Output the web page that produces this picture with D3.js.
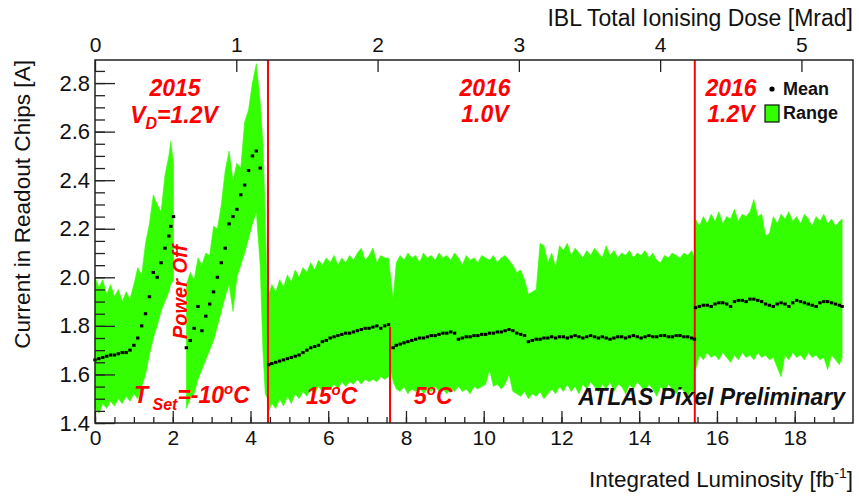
<!DOCTYPE html>
<html><head><meta charset="utf-8">
<script src="https://cdn.jsdelivr.net/npm/d3@7"></script>
<style>
html,body{margin:0;padding:0;background:#fff;}
svg{display:block;font-family:"Liberation Sans",Arial,Helvetica,sans-serif;}
</style></head>
<body>
<svg id="chart" width="859" height="497"></svg>
<script>
// ---------- DATA ----------
// Segment A: 2015, before power off
const lumiA = [0.0,0.1,0.2,0.3,0.4,0.5,0.6,0.7,0.8,0.9,1.0,1.1,1.2,1.3,1.4,1.5,1.6,1.7,1.8,1.9,1.95,2.02];
const highA = [2.00,1.96,1.99,1.93,1.97,1.92,1.95,1.90,1.94,1.91,1.97,2.04,2.01,2.14,2.22,2.34,2.30,2.27,2.42,2.50,2.56,2.47];
const lowA  = [1.46,1.44,1.48,1.46,1.49,1.47,1.50,1.48,1.51,1.49,1.52,1.50,1.55,1.60,1.68,1.75,1.80,1.86,1.90,1.94,1.97,1.99];
const meanA = [1.66,1.665,1.67,1.675,1.68,1.68,1.685,1.69,1.69,1.70,1.72,1.75,1.80,1.85,1.92,2.02,2.00,2.06,2.12,2.17,2.21,2.25];

// Segment B: 2015, after power off
const lumiB = [2.35,2.45,2.55,2.65,2.75,2.85,2.95,3.05,3.15,3.25,3.35,3.45,3.55,3.65,3.75,3.85,3.95,4.05,4.15,4.25,4.32,4.38,4.44];
const highB = [1.97,2.02,1.99,2.08,2.05,2.10,2.09,2.21,2.20,2.30,2.44,2.52,2.40,2.47,2.45,2.64,2.69,2.80,2.88,2.72,2.55,2.25,1.85];
const lowB  = [1.46,1.50,1.52,1.58,1.62,1.66,1.70,1.74,1.80,1.86,1.92,1.97,1.86,2.00,2.05,2.10,2.16,2.22,2.27,2.05,1.70,1.52,1.50];
const meanB = [1.71,1.74,1.79,1.88,1.78,1.84,1.89,1.94,2.00,2.06,2.12,2.22,2.25,2.28,2.34,2.38,2.44,2.50,2.52,2.45,null,null,null];

// Segment C: 2016, 1.0 V
const lumiC = [4.47,4.55,4.65,4.75,4.85,4.95,5.05,5.15,5.25,5.35,5.45,5.55,5.65,5.75,5.85,5.95,6.05,6.15,6.25,6.35,6.45,6.55,6.65,6.75,6.85,6.95,7.05,7.15,7.25,7.35,7.45,7.55,7.62,7.67,
 7.75,7.85,7.95,8.05,8.15,8.25,8.35,8.45,8.55,8.65,8.75,8.85,8.95,9.05,9.15,9.25,9.35,9.45,9.55,9.65,9.75,9.85,9.95,10.05,10.15,10.25,10.35,10.45,10.55,10.65,10.75,10.85,10.95,
 11.05,11.15,11.25,11.35,11.45,11.55,11.65,11.75,11.85,11.95,12.05,12.15,12.25,12.35,12.45,12.55,12.65,12.75,12.85,12.95,13.05,13.15,13.25,13.35,13.45,13.55,13.65,13.75,13.85,13.95,
 14.05,14.15,14.25,14.35,14.45,14.55,14.65,14.75,14.85,14.95,15.05,15.15,15.25,15.35,15.42];
const highC = [1.93,1.97,1.94,1.99,1.96,2.01,1.98,2.03,2.00,2.04,2.02,2.06,2.03,2.07,2.05,2.08,2.06,2.09,2.05,2.08,2.06,2.09,2.07,2.10,2.12,2.07,2.09,2.12,2.06,2.09,2.08,2.08,1.98,1.91,
 2.06,2.09,2.07,2.10,2.08,2.09,2.06,2.10,2.08,2.09,2.07,2.10,2.08,2.09,2.07,2.10,2.08,2.05,2.09,2.07,2.08,2.06,2.09,2.08,2.07,2.09,2.06,2.08,2.09,2.07,2.05,2.02,2.03,
 1.99,1.93,1.94,1.95,2.14,2.13,2.06,2.10,2.04,2.13,2.11,2.14,2.09,2.12,2.10,2.08,2.11,2.09,2.12,2.10,2.08,2.13,2.09,2.11,2.08,2.10,2.09,2.11,2.08,2.10,
 2.09,2.11,2.08,2.10,2.07,2.06,2.09,2.08,2.10,2.09,2.08,2.10,2.09,2.11,2.08];
const lowC  = [1.45,1.48,1.46,1.50,1.47,1.51,1.48,1.52,1.50,1.53,1.51,1.54,1.52,1.55,1.53,1.55,1.54,1.56,1.54,1.57,1.55,1.57,1.56,1.58,1.56,1.58,1.57,1.58,1.57,1.59,1.58,1.59,1.61,1.57,
 1.54,1.53,1.55,1.52,1.54,1.53,1.55,1.52,1.54,1.53,1.55,1.53,1.54,1.52,1.54,1.53,1.55,1.53,1.54,1.52,1.55,1.54,1.55,1.56,1.62,1.55,1.56,1.54,1.56,1.60,1.53,1.52,1.51,
 1.53,1.50,1.52,1.51,1.53,1.50,1.52,1.54,1.52,1.55,1.53,1.56,1.53,1.55,1.52,1.56,1.54,1.57,1.55,1.53,1.56,1.54,1.57,1.53,1.56,1.55,1.52,1.56,1.54,1.57,
 1.55,1.53,1.56,1.54,1.51,1.55,1.53,1.56,1.54,1.52,1.55,1.53,1.51,1.54,1.50];
const meanC = [1.64,1.645,1.65,1.655,1.66,1.665,1.67,1.675,1.68,1.69,1.70,1.71,1.715,1.72,1.735,1.74,1.75,1.755,1.76,1.765,1.77,1.77,1.775,1.78,1.785,1.79,1.79,1.795,1.80,1.79,1.80,1.805,null,1.71,
 1.72,1.725,1.73,1.735,1.74,1.745,1.75,1.75,1.755,1.76,1.76,1.765,1.77,1.77,1.775,1.77,1.745,1.75,1.755,1.755,1.76,1.76,1.765,1.765,1.77,1.77,1.775,1.775,1.78,1.785,1.78,1.77,1.765,
 1.76,1.735,1.74,1.745,1.745,1.75,1.75,1.755,1.75,1.755,1.755,1.75,1.755,1.76,1.755,1.75,1.755,1.76,1.755,1.75,1.755,1.75,1.745,1.75,1.755,1.755,1.75,1.755,1.76,1.755,
 1.75,1.755,1.76,1.755,1.755,1.76,1.76,1.755,1.755,1.76,1.76,1.755,1.755,1.75,1.745];

// Segment D: 2016, 1.2 V
const lumiD = [15.45,15.55,15.65,15.75,15.85,15.95,16.05,16.15,16.25,16.35,16.45,16.55,16.65,16.75,16.85,16.95,17.05,17.15,17.25,17.35,17.45,17.55,17.65,17.75,17.85,17.95,18.05,18.15,18.25,18.35,18.45,18.55,18.65,18.75,18.85,18.95,19.05,19.15,19.22];
const highD = [2.24,2.21,2.25,2.22,2.26,2.23,2.27,2.22,2.25,2.24,2.28,2.23,2.26,2.25,2.27,2.32,2.25,2.26,2.17,2.18,2.25,2.22,2.26,2.24,2.27,2.23,2.25,2.22,2.26,2.24,2.21,2.25,2.23,2.26,2.22,2.24,2.21,2.23,2.24];
const lowD  = [1.62,1.68,1.66,1.69,1.67,1.68,1.66,1.69,1.67,1.65,1.68,1.66,1.69,1.67,1.68,1.66,1.69,1.67,1.68,1.66,1.67,1.63,1.59,1.68,1.66,1.69,1.67,1.68,1.66,1.69,1.67,1.68,1.66,1.67,1.62,1.68,1.66,1.64,1.67];
const meanD = [1.875,1.88,1.885,1.885,1.88,1.89,1.895,1.895,1.89,1.88,1.90,1.905,1.905,1.90,1.91,1.91,1.905,1.90,1.89,1.885,1.88,1.89,1.895,1.89,1.88,1.895,1.905,1.90,1.895,1.89,1.885,1.88,1.895,1.90,1.90,1.895,1.89,1.885,1.88];

// Axis ticks
const xMajorTicks = [0,2,4,6,8,10,12,14,16,18];
const yMajorTicks = [1.4,1.6,1.8,2.0,2.2,2.4,2.6,2.8];
const doseTicks = [0,1,2,3,4,5];
// Vertical markers (luminosity)
const fullMarkers = [4.45, 15.43];
const shortMarker = {lumi: 7.59, top: 1.795};

// ---------- CHART ----------
const svg = d3.select("#chart");
const L = 95, R = 853, T = 60, B = 423;
const x = d3.scaleLinear().domain([0, 19.5]).range([L, R]);
const xTop = d3.scaleLinear().domain([0, 5.365]).range([L, R]);
const y = d3.scaleLinear().domain([1.4, 2.895]).range([B, T]);
const GREEN = "#33ff00", RED = "#ff0000";

const segments = [
  {lumi: lumiA, low: lowA, high: highA, mean: meanA},
  {lumi: lumiB, low: lowB, high: highB, mean: meanB},
  {lumi: lumiC, low: lowC, high: highC, mean: meanC},
  {lumi: lumiD, low: lowD, high: highD, mean: meanD}
];

// range band
const area = d3.area().x(d => x(d.l)).y0(d => y(d.lo)).y1(d => y(d.hi));
const gBand = svg.append("g");
segments.forEach(s => {
  const pts = s.lumi.map((l, i) => ({l, lo: s.low[i], hi: s.high[i]}));
  gBand.append("path").datum(pts).attr("d", area)
    .attr("fill", GREEN).attr("stroke", GREEN).attr("stroke-width", 0.6);
});

// red markers
const gMark = svg.append("g");
fullMarkers.forEach(m => {
  gMark.append("line").attr("x1", x(m)).attr("x2", x(m)).attr("y1", y(1.4)).attr("y2", y(2.895))
    .attr("stroke", RED).attr("stroke-width", 2);
});
gMark.append("line").attr("x1", x(shortMarker.lumi)).attr("x2", x(shortMarker.lumi))
  .attr("y1", y(1.4)).attr("y2", y(shortMarker.top)).attr("stroke", RED).attr("stroke-width", 2);

// mean dots
const gDots = svg.append("g");
segments.forEach(s => {
  const pts = s.lumi.map((l, i) => ({l, m: s.mean[i]})).filter(d => d.m != null);
  gDots.append("g").selectAll("rect").data(pts).join("rect")
    .attr("x", d => x(d.l) - 1.7).attr("y", d => y(d.m) - 1.5)
    .attr("width", 3.4).attr("height", 3).attr("fill", "#000");
});

// ---------- AXES ----------
const axisColor = "#222";
function styleAxis(g, fs) {
  g.selectAll(".domain").remove();
  g.selectAll("line").attr("stroke", axisColor).attr("stroke-width", 1.3);
  g.selectAll("text").attr("font-size", fs).attr("fill", "#111")
    .style("font-family", '"Liberation Sans",Arial,Helvetica,sans-serif');
}
// bottom
const gxMinor = svg.append("g").attr("transform", `translate(0,${B})`)
  .call(d3.axisBottom(x).tickValues(d3.range(0, 19.5, 0.5)).tickSize(-6).tickFormat(""));
styleAxis(gxMinor, 21);
const gx = svg.append("g").attr("transform", `translate(0,${B})`)
  .call(d3.axisBottom(x).tickValues(xMajorTicks).tickSize(-12).tickPadding(7).tickFormat(d3.format("d")));
styleAxis(gx, 21);
// left
const gyMinor = svg.append("g").attr("transform", `translate(${L},0)`)
  .call(d3.axisLeft(y).tickValues(d3.range(1.4, 2.89, 0.05)).tickSize(-10).tickFormat(""));
styleAxis(gyMinor, 21);
const gy = svg.append("g").attr("transform", `translate(${L},0)`)
  .call(d3.axisLeft(y).tickValues(yMajorTicks).tickSize(-20).tickPadding(5).tickFormat(d3.format(".1f")));
styleAxis(gy, 22);
// top
const gt = svg.append("g").attr("transform", `translate(0,${T})`)
  .call(d3.axisTop(xTop).tickValues(doseTicks).tickSize(-12).tickPadding(8).tickFormat(d3.format("d")));
styleAxis(gt, 21);

// frame
svg.append("rect").attr("x", L).attr("y", T).attr("width", R - L).attr("height", B - T)
  .attr("fill", "none").attr("stroke", axisColor).attr("stroke-width", 1.5);

// axis titles
svg.append("text").attr("x", R).attr("y", 26).attr("text-anchor", "end")
  .attr("font-size", 23).attr("fill", "#111").text("IBL Total Ionising Dose [Mrad]");
const xt = svg.append("text").attr("x", R).attr("y", 487).attr("text-anchor", "end")
  .attr("font-size", 22.4).attr("fill", "#111");
xt.append("tspan").text("Integrated Luminosity [fb");
xt.append("tspan").attr("dy", -9).attr("font-size", 14).text("-1");
xt.append("tspan").attr("dy", 9).text("]");
svg.append("text").attr("transform", `translate(30,${T}) rotate(-90)`).attr("text-anchor", "end")
  .attr("font-size", 22.6).attr("fill", "#111").text("Current in Readout Chips [A]");

// ---------- ANNOTATIONS ----------
function redText(xp, yp, anchor, size) {
  return svg.append("text").attr("x", xp).attr("y", yp).attr("text-anchor", anchor)
    .attr("font-size", size).attr("font-weight", "bold").attr("font-style", "italic").attr("fill", RED);
}
redText(175, 96, "middle", 23).text("2015");
const vd = redText(174, 123, "middle", 23);
vd.append("tspan").text("V");
vd.append("tspan").attr("dy", 6).attr("font-size", 16).text("D");
vd.append("tspan").attr("dy", -6).text("=1.2V");
redText(485, 96, "middle", 23).text("2016");
redText(485, 122, "middle", 23).text("1.0V");
redText(731, 96, "middle", 23).text("2016");
redText(731, 122, "middle", 23).text("1.2V");
svg.append("text").attr("transform", "translate(187,292) rotate(-90)").attr("text-anchor", "middle")
  .attr("font-size", 20).attr("font-weight", "bold").attr("font-style", "italic").attr("fill", RED).text("Power Off");
const ts = redText(134, 403, "start", 23);
ts.append("tspan").text("T");
ts.append("tspan").attr("dy", 7).attr("font-size", 16).text(" Set");
ts.append("tspan").attr("dy", -7).text("=-10");
ts.append("tspan").attr("dy", -9).attr("font-size", 15).text("o");
ts.append("tspan").attr("dy", 9).text("C");
const t15 = redText(306, 404, "start", 23);
t15.append("tspan").text("15");
t15.append("tspan").attr("dy", -9).attr("font-size", 15).text("o");
t15.append("tspan").attr("dy", 9).text("C");
const t5 = redText(414, 404, "start", 23);
t5.append("tspan").text("5");
t5.append("tspan").attr("dy", -9).attr("font-size", 15).text("o");
t5.append("tspan").attr("dy", 9).text("C");

svg.append("text").attr("x", 845).attr("y", 405).attr("text-anchor", "end")
  .attr("font-size", 23).attr("font-weight", "bold").attr("font-style", "italic").attr("fill", "#111")
  .text("ATLAS Pixel Preliminary");

// legend
svg.append("circle").attr("cx", 772).attr("cy", 89).attr("r", 2.6).attr("fill", "#000");
svg.append("text").attr("x", 783).attr("y", 95).attr("font-size", 18).attr("font-weight", "bold").attr("fill", "#111").text("Mean");
svg.append("rect").attr("x", 765).attr("y", 105).attr("width", 14).attr("height", 17)
  .attr("fill", GREEN).attr("stroke", "#111").attr("stroke-width", 1.2);
svg.append("text").attr("x", 783).attr("y", 119).attr("font-size", 18).attr("font-weight", "bold").attr("fill", "#111").text("Range");
</script>
</body></html>
